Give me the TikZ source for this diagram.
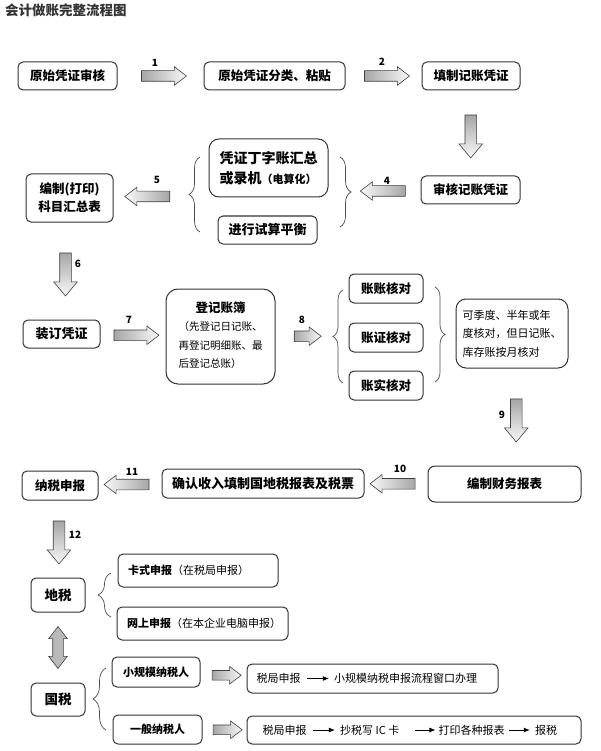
\documentclass[tikz,border=0pt]{standalone}
\usepackage{fontspec}
\newfontfamily\cjk{Noto Sans CJK SC}
\usetikzlibrary{positioning}
\usetikzlibrary{calc}
\usetikzlibrary{shapes.arrows}
\usetikzlibrary{decorations.pathreplacing}
\usetikzlibrary{arrows.meta}
\newcommand\fsz[2]{\fontsize{#1}{#2}\selectfont}

\begin{document}
\begin{tikzpicture}[x=1pt, y=-1pt,
    box/.style={draw=black!80, line width=1pt, rounded corners=5pt, fill=white,
      inner sep=0pt, align=center, font=\cjk\bfseries\fsz{12.5}{15}},
    plain/.style={inner sep=0pt, font=\cjk\fsz{11}{13}},
    num/.style={inner sep=0pt, font=\cjk\bfseries\fsz{10}{12}},
    blk/.style={single arrow, draw=gray!50!black, line width=0.6pt, inner sep=5pt,
      minimum width=0pt, single arrow head extend=4pt, single arrow tip angle=75,
      minimum height=45pt},
    rblk/.style={blk, left color=gray!70, right color=gray!5},
    lblk/.style={blk, shape border rotate=180, left color=gray!5, right color=gray!70},
    dblk/.style={blk, shape border rotate=270, inner sep=5.5pt,
      single arrow head extend=6pt, single arrow tip angle=80, minimum height=43pt,
      top color=gray!70, bottom color=gray!5},
    dbl/.style={double arrow, draw=gray!50!black, line width=0.6pt, inner sep=5pt,
      minimum width=0pt, double arrow head extend=4pt, double arrow tip angle=75,
      minimum height=42pt, shape border rotate=90,
      left color=gray!55, middle color=gray!5, right color=gray!55},
    brace/.style={decorate, decoration={brace, amplitude=#1}, draw=black!70, line width=0.7pt},
    brace/.default=10pt,
    tip/.style={-{Latex[length=6pt,width=5pt]}, line width=0.9pt, shorten <=6pt, shorten >=5pt},
  ]
  \fill[white] (0,0) rectangle (600,751);
  \useasboundingbox (0,0) rectangle (600,751);

  \node[anchor=west, inner sep=0pt, text=black!80, font=\cjk\bfseries\fsz{13.5}{16}] (title) at (5,10) {会计做账完整流程图};

  % boxes
  \node[box, minimum width=99pt, minimum height=28pt] (b1) at (67.5,76) {原始凭证审核};
  \node[box, minimum width=141pt, minimum height=28pt] (b2) at (274.5,76) {原始凭证分类、粘贴};
  \node[box, minimum width=98pt, minimum height=28pt] (b3) at (471,76) {填制记账凭证};
  \node[box, minimum width=99pt, minimum height=28pt] (b4) at (470.5,190) {审核记账凭证};
  \node[box, minimum width=119pt, minimum height=58pt, rounded corners=10pt, align=left,
    font=\cjk\bfseries\fsz{14}{20}] (b5) at (268.5,168) {凭证丁字账汇总\\或录机{\fsz{11}{20}（电算化）}};
  \node[box, minimum width=99pt, minimum height=28pt, font=\cjk\bfseries\fsz{13}{15}] (b5b) at (267.5,230) {进行试算平衡};
  \node[box, minimum width=87pt, minimum height=48pt, font=\cjk\bfseries\fsz{12.5}{18}] (b6) at (69.5,198) {编制(打印)\\科目汇总表};
  \node[box, minimum width=77pt, minimum height=28pt, font=\cjk\bfseries\fsz{13}{15}] (b7) at (61.5,334) {装订凭证};
  \node[box, minimum width=109pt, minimum height=95pt, rounded corners=12pt,
    font=\cjk\fsz{10.5}{18.5}] (b8) at (220.5,336.5) {\begin{tabular}{@{}l@{}}
      \multicolumn{1}{@{}c@{}}{\bfseries\fsz{12.5}{18.5}登记账簿}\\
      （先登记日记账、\\再登记明细账、最\\后登记总账）\end{tabular}};
  \node[box, minimum width=74pt, minimum height=29pt] (b9a) at (386,288.5) {账账核对};
  \node[box, minimum width=74pt, minimum height=29pt, below=19pt of b9a] (b9b) {账证核对};
  \node[box, minimum width=74pt, minimum height=29pt, below=18pt of b9b] (b9c) {账实核对};
  \node[box, minimum width=112pt, minimum height=69pt, rounded corners=10pt, align=left,
    font=\cjk\fsz{11}{18.5}] (b10) at (512,333.5) {可季度、半年或年\\度核对，但日记账、\\库存账按月核对};
  \node[box, minimum width=153pt, minimum height=36pt, rounded corners=7pt] (b11) at (504.5,484) {编制财务报表};
  \node[box, minimum width=202pt, minimum height=29pt, font=\cjk\bfseries\fsz{13}{15}] (b12) at (263,483.5) {确认收入填制国地税报表及税票};
  \node[box, minimum width=76pt, minimum height=29pt] (b13) at (60,485.5) {纳税申报};
  \node[box, minimum width=54pt, minimum height=34pt, font=\cjk\bfseries\fsz{13.5}{15}] (b14) at (58,595) {地税};
  \node[box, minimum width=160pt, minimum height=33pt, text width=140pt, align=left,
    font=\cjk\fsz{11}{13}] (b15) at (198,570.5) {\textbf{卡式申报}（在税局申报）};
  \node[box, minimum width=171pt, minimum height=33pt, text width=151pt, align=left,
    font=\cjk\fsz{11}{13}] (b16) at (202.5,623.5) {\textbf{网上申报}（在本企业电脑申报）};
  \node[box, minimum width=54pt, minimum height=33pt, font=\cjk\bfseries\fsz{13.5}{15}] (b17) at (58,699.5) {国税};
  \node[box, minimum width=88pt, minimum height=30pt, font=\cjk\bfseries\fsz{11}{13}] (b18) at (156,672) {小规模纳税人};
  \node[box, minimum width=89pt, minimum height=29pt, font=\cjk\bfseries\fsz{11}{13}] (b19) at (157.5,729.5) {一般纳税人};
  \node[box, minimum width=251pt, minimum height=29pt] (b20) at (372.5,678.5) {};
  \node[box, minimum width=334pt, minimum height=28pt] (b21) at (414,730) {};

  \node[plain, right=10pt of b20.west] (s1) {税局申报};
  \node[plain, right=33pt of s1] (s2) {小规模纳税申报流程窗口办理};
  \node[plain, right=16pt of b21.west] (s3) {税局申报};
  \node[plain, right=33pt of s3] (s4) {抄税写 IC 卡};
  \node[plain, right=39pt of s4] (s5) {打印各种报表};
  \node[plain, right=30pt of s5] (s6) {报税};
  \draw[tip] (s1) -- (s2);
  \draw[tip] (s3) -- (s4);
  \draw[tip, shorten <=16pt, shorten >=3pt] (s4) -- (s5);
  \draw[tip, shorten <=4pt] (s5) -- (s6);

  % braces
  \coordinate (t5L) at (188,195);
  \coordinate (t5R) at (352,192);
  \coordinate (t8L) at (333,336);
  \draw[brace=11pt] (200,232) -- (200,157);
  \draw[brace=11pt] (340,157) -- (340,227);
  \draw[brace] (343,383) -- (343,290);
  \draw[brace] (435,287) -- (435,382);
  \draw[brace=13pt] (111,617) -- (111,573);
  \draw[brace=13pt] (106,730) -- (106,668);

  % block arrows
  \node[rblk] (a1) at ($(b1.east)!.5!(b2.west)$) {};
  \node[rblk] (a2) at ($(b2.east)!.5!(b3.west)$) {};
  \node[dblk] (a3) at ($(b3.south)!.5!(b4.north)$) {};
  \node[lblk] (a4) at ($(t5R)!.5!(b4.west)$) {};
  \node[lblk] (a5) at ($(b6.east)!.5!(t5L)$) {};
  \node[dblk] (a6) at ($(b6.south)!.5!(b7.north)$) {};
  \node[rblk] (a7) at ($(b7.east)!.5!(b8.west)$) {};
  \node[rblk, minimum height=27pt] (a8) at ($(b8.east)!.5!(t8L)$) {};
  \node[dblk, xshift=8pt] (a9) at ($(b10.south)!.5!(b11.north)$) {};
  \node[lblk] (a10) at ($(b12.east)!.5!(b11.west)$) {};
  \node[lblk] (a11) at ($(b13.east)!.5!(b12.west)$) {};
  \node[dblk] (a12) at ($(b13.south)!.5!(b14.north)$) {};
  \node[dbl] (a13) at ($(b14.south)!.5!(b17.north)$) {};
  \node[rblk, minimum height=29pt, inner sep=4.5pt] (a14) at ($(b18.east)!.5!(b20.west)$) {};
  \node[rblk, minimum height=29pt, inner sep=4.5pt] (a15) at ($(b19.east)!.5!(b21.west)$) {};

  \node[num] (l1) at (155,63) {1};
  \node[num] (l2) at (382,62) {2};
  \node[num] (l4) at (387,181) {4};
  \node[num] (l5) at (157,180) {5};
  \node[num] (l6) at (78,264) {6};
  \node[num] (l7) at (129,320) {7};
  \node[num] (l8) at (302,320) {8};
  \node[num] (l9) at (502,415) {9};
  \node[num] (l10) at (400,469) {10};
  \node[num] (l11) at (132,472) {11};
  \node[num] (l12) at (75,535) {12};
\end{tikzpicture}
\end{document}
